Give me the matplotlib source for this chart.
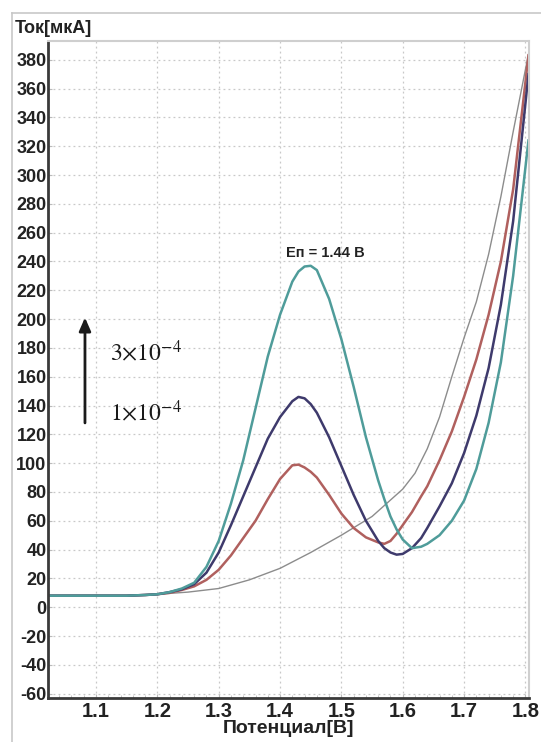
import matplotlib
matplotlib.use("Agg")
import matplotlib.pyplot as plt
from matplotlib.lines import Line2D
from matplotlib.ticker import MultipleLocator

plt.rcParams['font.family'] = ['Liberation Sans', 'DejaVu Sans']
plt.rcParams['mathtext.fontset'] = 'stix'
plt.rcParams['axes.unicode_minus'] = False

# blank (background) curve
E_gray = [1.02, 1.10, 1.15, 1.20, 1.25, 1.30, 1.35, 1.40, 1.45, 1.50, 1.55, 1.60,
          1.62, 1.64, 1.66, 1.68, 1.70, 1.72, 1.74, 1.76, 1.78, 1.805]
I_gray = [8, 8, 8, 9, 10.5, 13, 19, 27, 38, 50, 63, 82,
          93, 110, 132, 160, 187, 212, 245, 285, 330, 384]

E = [1.02, 1.10, 1.15, 1.18, 1.20, 1.22, 1.24, 1.26, 1.28, 1.30, 1.32, 1.34, 1.36,
     1.38, 1.40, 1.42, 1.43, 1.44, 1.45, 1.46, 1.48, 1.50, 1.52, 1.54, 1.56, 1.57,
     1.58, 1.59, 1.60, 1.615, 1.63, 1.64, 1.66, 1.68, 1.70, 1.72, 1.74, 1.76, 1.78,
     1.805]

# 1e-4 (lowest peak)
I_red = [8, 8, 8, 8.5, 9, 10, 12, 14.5, 19, 26, 36, 48, 60,
         75, 89, 98.5, 99, 97, 94, 90, 78, 65, 55, 48.5, 45, 44,
         46, 51, 57, 66, 77, 84, 102, 122, 146, 172, 203, 240, 290,
         383]

# middle concentration
I_pur = [8, 8, 8, 8.5, 9, 10.5, 12.5, 16, 24, 38, 57, 77, 97,
         117, 132, 143, 146, 145, 141, 135, 118, 98, 78, 60, 46, 41,
         38, 36.5, 37, 41, 48, 55, 70, 86, 107, 133, 166, 210, 268,
         370]

# 3e-4 (highest peak)
I_teal = [8, 8, 8, 8.5, 9, 10.5, 13, 17, 28, 46, 72, 102, 138,
          174, 203, 226, 233, 236.5, 237, 234, 214, 186, 153, 118, 88, 75,
          63, 54, 47, 41, 42, 44, 50, 60, 74, 96, 128, 170, 230,
          324]

yticks = list(range(-60, 381, 20))
xticks = [1.1, 1.2, 1.3, 1.4, 1.5, 1.6, 1.7, 1.8]

fig = plt.figure(figsize=(5.41, 7.42), dpi=100)
ax = fig.add_axes([0.0887, 0.0593, 0.8893, 0.8854])

ax.plot(E_gray, I_gray, color='#8c8c8c', lw=1.0)
ax.plot(E, I_red, color='#b0605e', lw=1.8)
ax.plot(E, I_pur, color='#3e3a6c', lw=1.8)
ax.plot(E, I_teal, color='#4f9c9a', lw=1.8)

ax.set_xlim(1.0217, 1.806)
ax.set_ylim(-63, 393)
ax.set_xticks(xticks)
ax.set_yticks(yticks)
ax.xaxis.set_minor_locator(MultipleLocator(0.02))
ax.grid(True, which='major', color='#c8c8c8', ls=(0, (1.5, 2.5)), lw=0.9)
ax.tick_params(axis='both', which='both', direction='in', color='#bbbbbb',
               length=3, labelcolor='#222222')
ax.tick_params(axis='x', which='minor', length=2)
ax.tick_params(axis='y', pad=1, labelsize=13)
ax.tick_params(axis='x', pad=3, labelsize=14.5)
for lab in ax.get_xticklabels() + ax.get_yticklabels():
    lab.set_fontweight('bold')

for side in ['top', 'right']:
    ax.spines[side].set_color('#cfcfcf')
    ax.spines[side].set_linewidth(1.5)
for side in ['left', 'bottom']:
    ax.spines[side].set_color('#3a3a3a')
    ax.spines[side].set_linewidth(2.0)

ax.set_xlabel('Потенциал[В]', fontsize=14, fontweight='bold', color='#222222',
              labelpad=-1)
fig.text(0.028, 0.962, 'Ток[мкА]', fontsize=13, fontweight='bold',
         color='#222222', ha='left', va='center')

ax.text(1.474, 246, 'Еп = 1.44 В', fontsize=10.5, fontweight='bold',
        color='#222222', ha='center', va='center')

ax.annotate('', xy=(1.082, 203), xytext=(1.082, 126),
            arrowprops=dict(arrowstyle='-|>,head_width=0.35,head_length=0.8',
                            color='#1a1a1a', lw=2.0))
ax.text(1.122, 177, r'$3{\times}10^{-4}$', fontsize=17, color='#1a1a1a',
        ha='left', va='center')
ax.text(1.122, 135, r'$1{\times}10^{-4}$', fontsize=17, color='#1a1a1a',
        ha='left', va='center')

# outer frame of the screenshot
fig.add_artist(Line2D([12 / 541, 1.0], [1 - 13 / 742, 1 - 13 / 742],
                      transform=fig.transFigure, color='#c8c8c8', lw=1.2))
fig.add_artist(Line2D([12 / 541, 12 / 541], [0, 1 - 13 / 742],
                      transform=fig.transFigure, color='#c8c8c8', lw=1.2))

fig.savefig('out.png', dpi=100)
